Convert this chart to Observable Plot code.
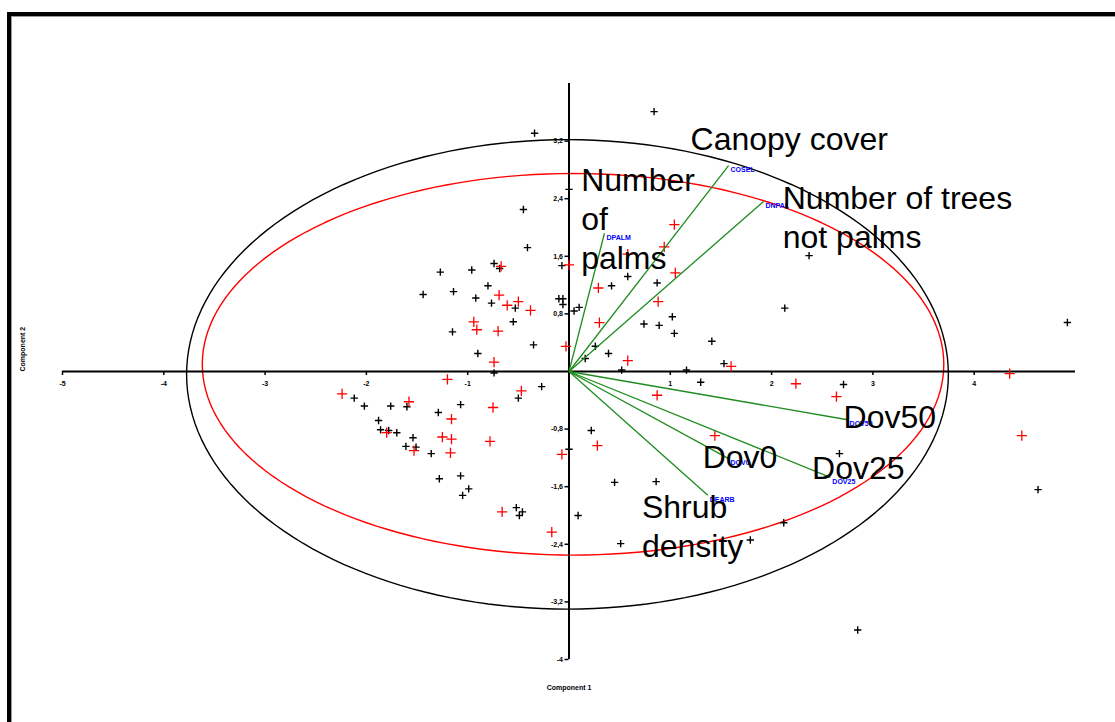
<!DOCTYPE html>
<html>
<head>
<meta charset="utf-8">
<script src="https://cdn.jsdelivr.net/npm/d3@7"></script>
<script src="https://cdn.jsdelivr.net/npm/@observablehq/plot@0.6"></script>
<style>
  html, body { margin: 0; padding: 0; background: #fff; overflow: hidden; width: 1115px; height: 722px; }
  #frame { position: absolute; left: 7px; top: 12px; width: 1300px; height: 900px;
           border-left: 4px solid #000; border-top: 4px solid #000;
           box-shadow: inset 1px 1px 0 #999; pointer-events: none; }
  #chart { position: absolute; left: 0; top: 0; }
</style>
</head>
<body>
<div id="chart"></div>
<div id="frame"></div>
<script>
// Axis ticks
const xTicks = [-5, -4, -3, -2, -1, 1, 2, 3, 4];
const xTickLabels = ["-5", "-4", "-3", "-2", "-1", "1", "2", "3", "4"];
const yTicks = [3.2, 2.4, 1.6, 0.8, -0.8, -1.6, -2.4, -3.2, -4];
const yTickLabels = ["3,2", "2,4", "1,6", "0,8", "-0,8", "-1,6", "-2,4", "-3,2", "-4"];

// Observations (component 1, component 2)
const blackPoints = [
  [-0.34, 3.31], [0.0, 2.53], [-0.45, 2.25], [-0.41, 1.72], [-0.74, 1.50], [-0.96, 1.41],
  [-1.27, 1.38], [-0.685, 1.43], [-0.07, 1.47], [-0.80, 1.19], [-1.44, 1.07], [-1.14, 1.11],
  [-0.92, 1.02], [-0.765, 0.95], [-0.53, 0.88], [-0.10, 1.01], [-0.06, 1.01], [-0.06, 0.93],
  [0.05, 0.84], [0.10, 0.89], [-0.55, 0.69], [-1.15, 0.55], [-0.35, 0.37], [-0.90, 0.25],
  [-0.74, -0.02], [-2.12, -0.37], [-2.02, -0.48], [-1.76, -0.48], [-1.60, -0.49], [-1.07, -0.46],
  [-0.50, -0.37], [-0.27, -0.21], [-1.29, -0.57], [-1.88, -0.68], [-1.86, -0.81], [-1.78, -0.82],
  [-1.70, -0.85], [-1.54, -0.92], [-1.61, -1.04], [-1.51, -1.05], [-1.36, -1.14], [0.0, -1.08],
  [-1.28, -1.49], [-1.07, -1.45], [-0.99, -1.63], [-1.05, -1.72], [-0.52, -1.89], [-0.46, -1.95],
  [-0.49, -2.00], [0.09, -2.0], [0.84, 3.61], [2.37, 1.61], [0.58, 1.32], [0.42, 1.19],
  [0.87, 1.23], [2.13, 0.88], [0.74, 0.66], [0.89, 0.64], [1.02, 0.76], [1.04, 0.53],
  [1.41, 0.42], [0.39, 0.25], [0.16, 0.18], [0.26, 0.35], [1.53, 0.11], [0.52, 0.02],
  [1.16, 0.02], [1.30, -0.15], [2.71, -0.18], [0.22, -0.82], [2.67, -1.14], [0.45, -1.54],
  [0.86, -1.53], [2.12, -2.10], [0.51, -2.39], [1.79, -2.34], [4.63, -1.64], [2.85, -3.59],
  [4.92, 0.68]
];
const redPoints = [
  [0.0, 1.48], [-0.67, 1.46], [-0.69, 1.06], [-0.61, 0.92], [-0.50, 0.97], [-0.38, 0.85],
  [-0.94, 0.69], [-0.91, 0.58], [-0.70, 0.56], [-0.03, 0.35], [-0.74, 0.13], [-2.24, -0.31],
  [-1.20, -0.11], [-1.58, -0.42], [-0.47, -0.27], [-0.75, -0.50], [-1.16, -0.66], [-1.80, -0.85],
  [-1.25, -0.91], [-1.16, -0.94], [-0.78, -0.97], [-1.53, -1.10], [-1.17, -1.13], [-0.07, -1.15],
  [-0.66, -1.95], [-0.17, -2.23], [1.04, 2.04], [0.94, 1.73], [0.58, 1.63], [1.05, 1.37],
  [0.29, 1.16], [0.88, 0.97], [0.30, 0.68], [0.58, 0.15], [1.60, 0.07], [2.24, -0.17],
  [0.87, -0.33], [2.64, -0.35], [4.35, -0.03], [4.47, -0.89], [1.44, -0.89], [0.28, -1.03]
];

// Variable loadings (vector tips)
const varCodes = ["COSEL", "DNPAL", "DPALM", "DOV50", "DOV25", "DOV0", "DEARB"];
const varX = [1.575, 1.92, 0.35, 2.75, 2.58, 1.575, 1.37];
const varY = [2.86, 2.36, 1.92, -0.67, -1.47, -1.21, -1.72];

// Big descriptive labels (anchor = centre of first line, in data units)
const bigLabels = ["Canopy cover", "Number of trees\nnot palms", "Number\nof\npalms", "Dov50", "Dov0", "Dov25", "Shrub\ndensity"];
const bigLabelX = [1.20, 2.11, 0.12, 2.71, 1.32, 2.40, 0.72];
const bigLabelY = [3.22, 2.40, 2.65, -0.64, -1.19, -1.35, -1.89];

// Ellipses: [centerX, centerY, radiusX, radiusY]
const blackEllipse = [-0.015, -0.04, 3.76, 3.26];
const redEllipse = [0.04, 0.10, 3.66, 2.65];

function ellipsePts(e) {
  return d3.range(0, 361, 2).map(a => {
    const t = a * Math.PI / 180;
    return [e[0] + e[2] * Math.cos(t), e[1] + e[3] * Math.sin(t)];
  });
}

const vectors = varCodes.map((c, i) => ({code: c, x: varX[i], y: varY[i]}));
const labels = bigLabels.map((t, i) => ({text: t, x: bigLabelX[i], y: bigLabelY[i]}));

const W = 1115, H = 722;
const mL = 62, mR = 40, mT = 83, mB = 63;
const pxX = (W - mL - mR) / 10;   // px per x unit
const pxY = (H - mT - mB) / 8;    // px per y unit
const tickLen = 4;
const bigFont = 32;

const chart = Plot.plot({
  width: W,
  height: H,
  marginLeft: mL,
  marginRight: mR,
  marginTop: mT,
  marginBottom: mB,
  x: {domain: [-5, 5], axis: null},
  y: {domain: [-4, 4], axis: null},
  style: {background: "#fff", fontFamily: "Liberation Sans, Arial, sans-serif"},
  marks: [
    // ellipses
    Plot.line(ellipsePts(blackEllipse), {x: d => d[0], y: d => d[1], stroke: "#000", strokeWidth: 1.4}),
    Plot.line(ellipsePts(redEllipse), {x: d => d[0], y: d => d[1], stroke: "#ff0000", strokeWidth: 1.4}),
    // axes
    Plot.ruleY([0], {x1: -5, x2: 5, stroke: "#000", strokeWidth: 2}),
    Plot.ruleX([0], {y1: -4, y2: 4, stroke: "#000", strokeWidth: 2}),
    Plot.ruleX(xTicks, {x: d => d, y1: 0, y2: -tickLen / pxY, stroke: "#000", strokeWidth: 1.5}),
    Plot.ruleY(yTicks, {y: d => d, x1: -tickLen / pxX, x2: 0, stroke: "#000", strokeWidth: 1.5}),
    Plot.text(xTicks, {x: d => d, y: 0, text: (d, i) => xTickLabels[i], dy: 12, fontSize: 7, fontWeight: "bold", fill: "#000"}),
    Plot.text(yTicks, {x: 0, y: d => d, text: (d, i) => yTickLabels[i], dx: -6, textAnchor: "end", fontSize: 7, fontWeight: "bold", fill: "#000"}),
    Plot.text(["Component 2"], {frameAnchor: "left", dx: -40, rotate: -90, fontSize: 7, fontWeight: "bold", fill: "#000"}),
    Plot.text(["Component 1"], {frameAnchor: "bottom", dy: 30, fontSize: 7, fontWeight: "bold", fill: "#000"}),
    // observations
    Plot.dot(blackPoints, {x: d => d[0], y: d => d[1], symbol: "plus", r: 2.5, stroke: "#000", strokeWidth: 1.4}),
    Plot.dot(redPoints, {x: d => d[0], y: d => d[1], symbol: "plus", r: 3.4, stroke: "#ff0000", strokeWidth: 1.3}),
    // loadings
    Plot.link(vectors, {x1: 0, y1: 0, x2: "x", y2: "y", stroke: "#1e8c1e", strokeWidth: 1.3}),
    Plot.text(vectors, {x: "x", y: "y", text: "code", dx: 2, dy: 4, textAnchor: "start", fontSize: 7, fontWeight: "bold", fill: "#0000ff", style: {letterSpacing: "0.6px"}}),
    // big labels
    Plot.text(labels, {x: "x", y: "y", text: "text", textAnchor: "start", lineAnchor: "top", dy: -17, lineHeight: 1.22, fontSize: bigFont, fill: "#000", fontFamily: "Liberation Sans"})
  ]
});
document.getElementById("chart").appendChild(chart);
</script>
</body>
</html>
